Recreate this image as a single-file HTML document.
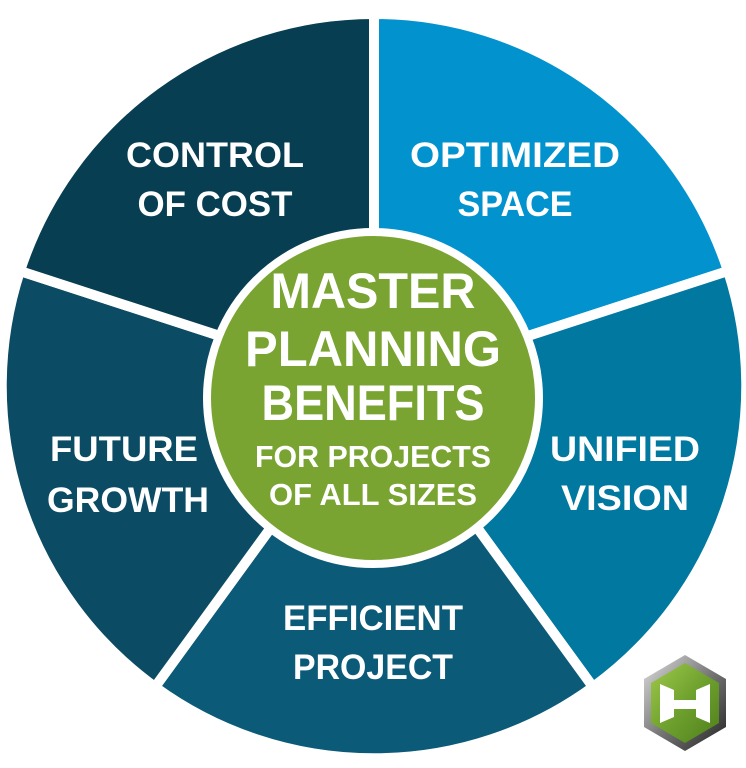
<!DOCTYPE html>
<html><head><meta charset="utf-8"><style>html,body{margin:0;padding:0;background:#fff}svg{display:block}</style></head>
<body>
<svg width="746" height="768" viewBox="0 0 746 768" xmlns="http://www.w3.org/2000/svg">
<defs>
<linearGradient id="hg" x1="0" y1="0" x2="1" y2="1"><stop offset="0" stop-color="#9fca4a"/><stop offset="0.5" stop-color="#6fa12e"/><stop offset="1" stop-color="#4e7f1c"/></linearGradient>
<linearGradient id="sg" x1="0" y1="0" x2="1" y2="1"><stop offset="0" stop-color="#e0e0e0"/><stop offset="0.5" stop-color="#777"/><stop offset="1" stop-color="#222"/></linearGradient>
</defs>
<g stroke="#fff" stroke-width="10" stroke-linejoin="miter">
<path d="M374,386 L374,14 A372,372 0 0 1 728,271 Z" fill="#0293cf"/>
<path d="M374,386 L728,271 A372,372 0 0 1 593,687 Z" fill="#01789f"/>
<path d="M374,386 L593,687 A372,372 0 0 1 155,687 Z" fill="#0b5a78"/>
<path d="M374,386 L155,687 A372,372 0 0 1 20,271 Z" fill="#0b4b64"/>
<path d="M374,386 L20,271 A372,372 0 0 1 374,14 Z" fill="#073e52"/>
</g>
<circle cx="373" cy="398" r="166" fill="#79a432" stroke="#fff" stroke-width="8"/>
<g font-family="'Liberation Sans',sans-serif" font-weight="bold" fill="#fff" text-anchor="middle">
<text x="215" y="167" font-size="35" textLength="178" lengthAdjust="spacingAndGlyphs">CONTROL</text>
<text x="215" y="216" font-size="35" textLength="155" lengthAdjust="spacingAndGlyphs">OF COST</text>
<text x="515" y="167" font-size="35" textLength="210" lengthAdjust="spacingAndGlyphs">OPTIMIZED</text>
<text x="515" y="216" font-size="35" textLength="115" lengthAdjust="spacingAndGlyphs">SPACE</text>
<text x="625" y="461" font-size="35" textLength="150" lengthAdjust="spacingAndGlyphs">UNIFIED</text>
<text x="625" y="510" font-size="35" textLength="128" lengthAdjust="spacingAndGlyphs">VISION</text>
<text x="373" y="630" font-size="35" textLength="180" lengthAdjust="spacingAndGlyphs">EFFICIENT</text>
<text x="373" y="679" font-size="35" textLength="160" lengthAdjust="spacingAndGlyphs">PROJECT</text>
<text x="124" y="461" font-size="35" textLength="148" lengthAdjust="spacingAndGlyphs">FUTURE</text>
<text x="128" y="512" font-size="35" textLength="162" lengthAdjust="spacingAndGlyphs">GROWTH</text>
<text x="373" y="308" font-size="50" textLength="205" lengthAdjust="spacingAndGlyphs">MASTER</text>
<text x="373" y="366" font-size="50" textLength="256" lengthAdjust="spacingAndGlyphs">PLANNING</text>
<text x="373" y="420" font-size="50" textLength="223" lengthAdjust="spacingAndGlyphs">BENEFITS</text>
<text x="373" y="467" font-size="31" textLength="236" lengthAdjust="spacingAndGlyphs">FOR PROJECTS</text>
<text x="373" y="505" font-size="31" textLength="208" lengthAdjust="spacingAndGlyphs">OF ALL SIZES</text>
</g>
<g>
<polygon points="685,655 726,679 726,727 685,751 644,727 644,679" fill="url(#sg)"/>
<polygon points="685,663 719,683 719,723 685,743 651,723 651,683" fill="url(#hg)"/>
<path d="M660,684 L674,690 L674,700 L696,700 L696,690 L710,684 L710,723 L696,717 L696,709 L674,709 L674,717 L660,723 Z" fill="#fff"/>
</g>
</svg>
</body></html>
